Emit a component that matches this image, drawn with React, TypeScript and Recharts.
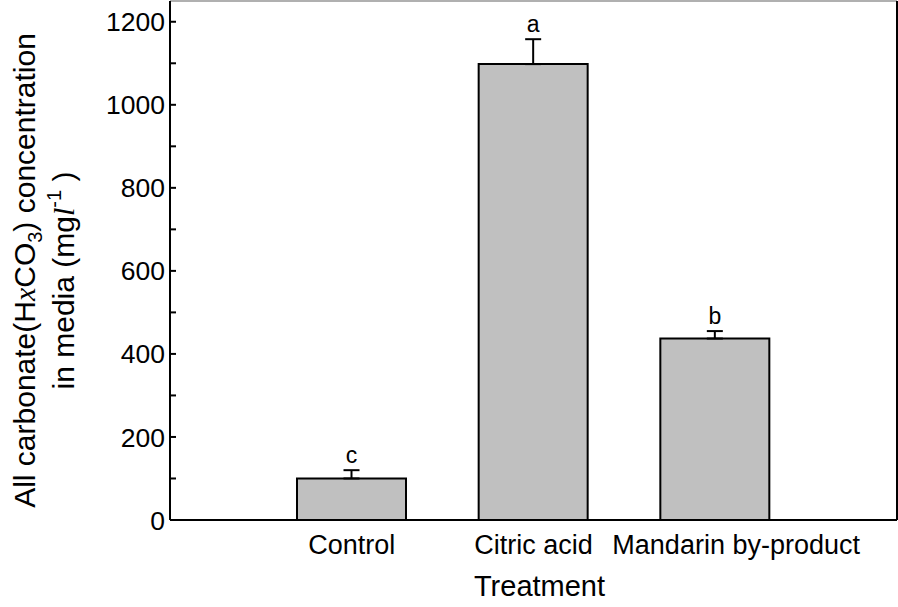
import { BarChart, Bar, XAxis, YAxis, ErrorBar, LabelList } from 'recharts';

const categories = ['Control', 'Citric acid', 'Mandarin by-product'];
const values = [100, 1098, 437];
const errors = [20, 60, 18];
const letters = ['c', 'a', 'b'];
const yTicks = [0, 100, 200, 300, 400, 500, 600, 700, 800, 900, 1000, 1100, 1200];

const FONT = '"Liberation Sans", Arial, sans-serif';

const data = categories.map((name, i) => ({
  name,
  value: values[i],
  err: [0, errors[i]],
  letter: letters[i],
}));

const YTick = (props: any) => {
  const { x, y, payload } = props;
  const major = payload.value % 200 === 0;
  return (
    <g>
      <line x1={x + 5} y1={y} x2={x + 11} y2={y} stroke="#000" strokeWidth={2} />
      {major && (
        <text x={x} y={y} dy="0.36em" textAnchor="end" fontSize={26.5} fontFamily={FONT} fill="#000">
          {payload.value}
        </text>
      )}
    </g>
  );
};

// the last category label sits a bit right of its bar in the original
const XTick = (props: any) => {
  const { x, y, payload } = props;
  const dx = payload.index === categories.length - 1 ? 21 : 0;
  return (
    <text x={x + dx} y={y} dy="0.71em" textAnchor="middle" fontSize={27} fontFamily={FONT} fill="#000">
      {payload.value}
    </text>
  );
};

const YLabel = (props: any) => {
  const { viewBox } = props;
  const cy = viewBox.y + viewBox.height / 2 + 10;
  const italic = { fontFamily: '"Liberation Serif", serif', fontStyle: 'italic' as const };
  return (
    <g fontFamily={FONT} fontSize={30} fill="#000">
      <text transform={`translate(35, ${cy}) rotate(-90)`} textAnchor="middle">
        <tspan>All carbonate(H</tspan>
        <tspan {...italic}>x</tspan>
        <tspan>CO</tspan>
        <tspan fontSize={20} dy={7}>3</tspan>
        <tspan dy={-7}>) concentration</tspan>
      </text>
      <text transform={`translate(74, ${cy + 10}) rotate(-90)`} textAnchor="middle">
        <tspan>in media (mg</tspan>
        <tspan {...italic}>l</tspan>
        <tspan fontSize={20} dy={-13}>-1</tspan>
        <tspan dy={13}>  )</tspan>
      </text>
    </g>
  );
};

const XLabel = (props: any) => {
  const { viewBox } = props;
  return (
    <text
      x={viewBox.x + viewBox.width / 2 + 6}
      y={viewBox.y + 76}
      textAnchor="middle"
      fontSize={29}
      fontFamily={FONT}
      fill="#000"
    >
      Treatment
    </text>
  );
};

const Letter = (props: any) => {
  const { x, y, width, height, index, value } = props;
  const pxPerUnit = height / values[index];
  const capY = y - errors[index] * pxPerUnit;
  return (
    <text x={x + width / 2} y={capY - 7} textAnchor="middle" fontSize={23} fontFamily={FONT} fill="#000">
      {value}
    </text>
  );
};

export default function App() {
  return (
    <div style={{ position: 'absolute', left: 0, top: 0, width: 898, height: 607, background: '#fff' }}>
      <BarChart width={898} height={607} data={data} margin={{ top: 0, right: 0, bottom: 0, left: 0 }}>
        <XAxis
          dataKey="name"
          type="category"
          padding={{ left: 91, right: 91 }}
          height={87}
          tickLine={false}
          tickSize={8}
          tickMargin={7}
          axisLine={{ stroke: '#000', strokeWidth: 2 }}
          tick={<XTick />}
          interval={0}
          label={<XLabel />}
        />
        <XAxis
          xAxisId="top"
          orientation="top"
          dataKey="name"
          height={1}
          tick={false}
          tickLine={false}
          axisLine={{ stroke: '#b0b0b0', strokeWidth: 2 }}
        />
        <YAxis
          type="number"
          domain={[0, 1250]}
          ticks={yTicks}
          interval={0}
          width={170}
          tickLine={false}
          tickSize={0}
          tickMargin={5}
          axisLine={{ stroke: '#000', strokeWidth: 2 }}
          tick={<YTick />}
          label={<YLabel />}
        />
        <YAxis
          yAxisId="right"
          orientation="right"
          width={1}
          tick={false}
          tickLine={false}
          axisLine={{ stroke: '#000', strokeWidth: 2 }}
        />
        <Bar dataKey="value" fill="#c0c0c0" stroke="#000" strokeWidth={2} barSize={109} isAnimationActive={false}>
          <ErrorBar dataKey="err" width={8} stroke="#000" strokeWidth={2} direction="y" />
          <LabelList dataKey="letter" content={<Letter />} />
        </Bar>
      </BarChart>
    </div>
  );
}
